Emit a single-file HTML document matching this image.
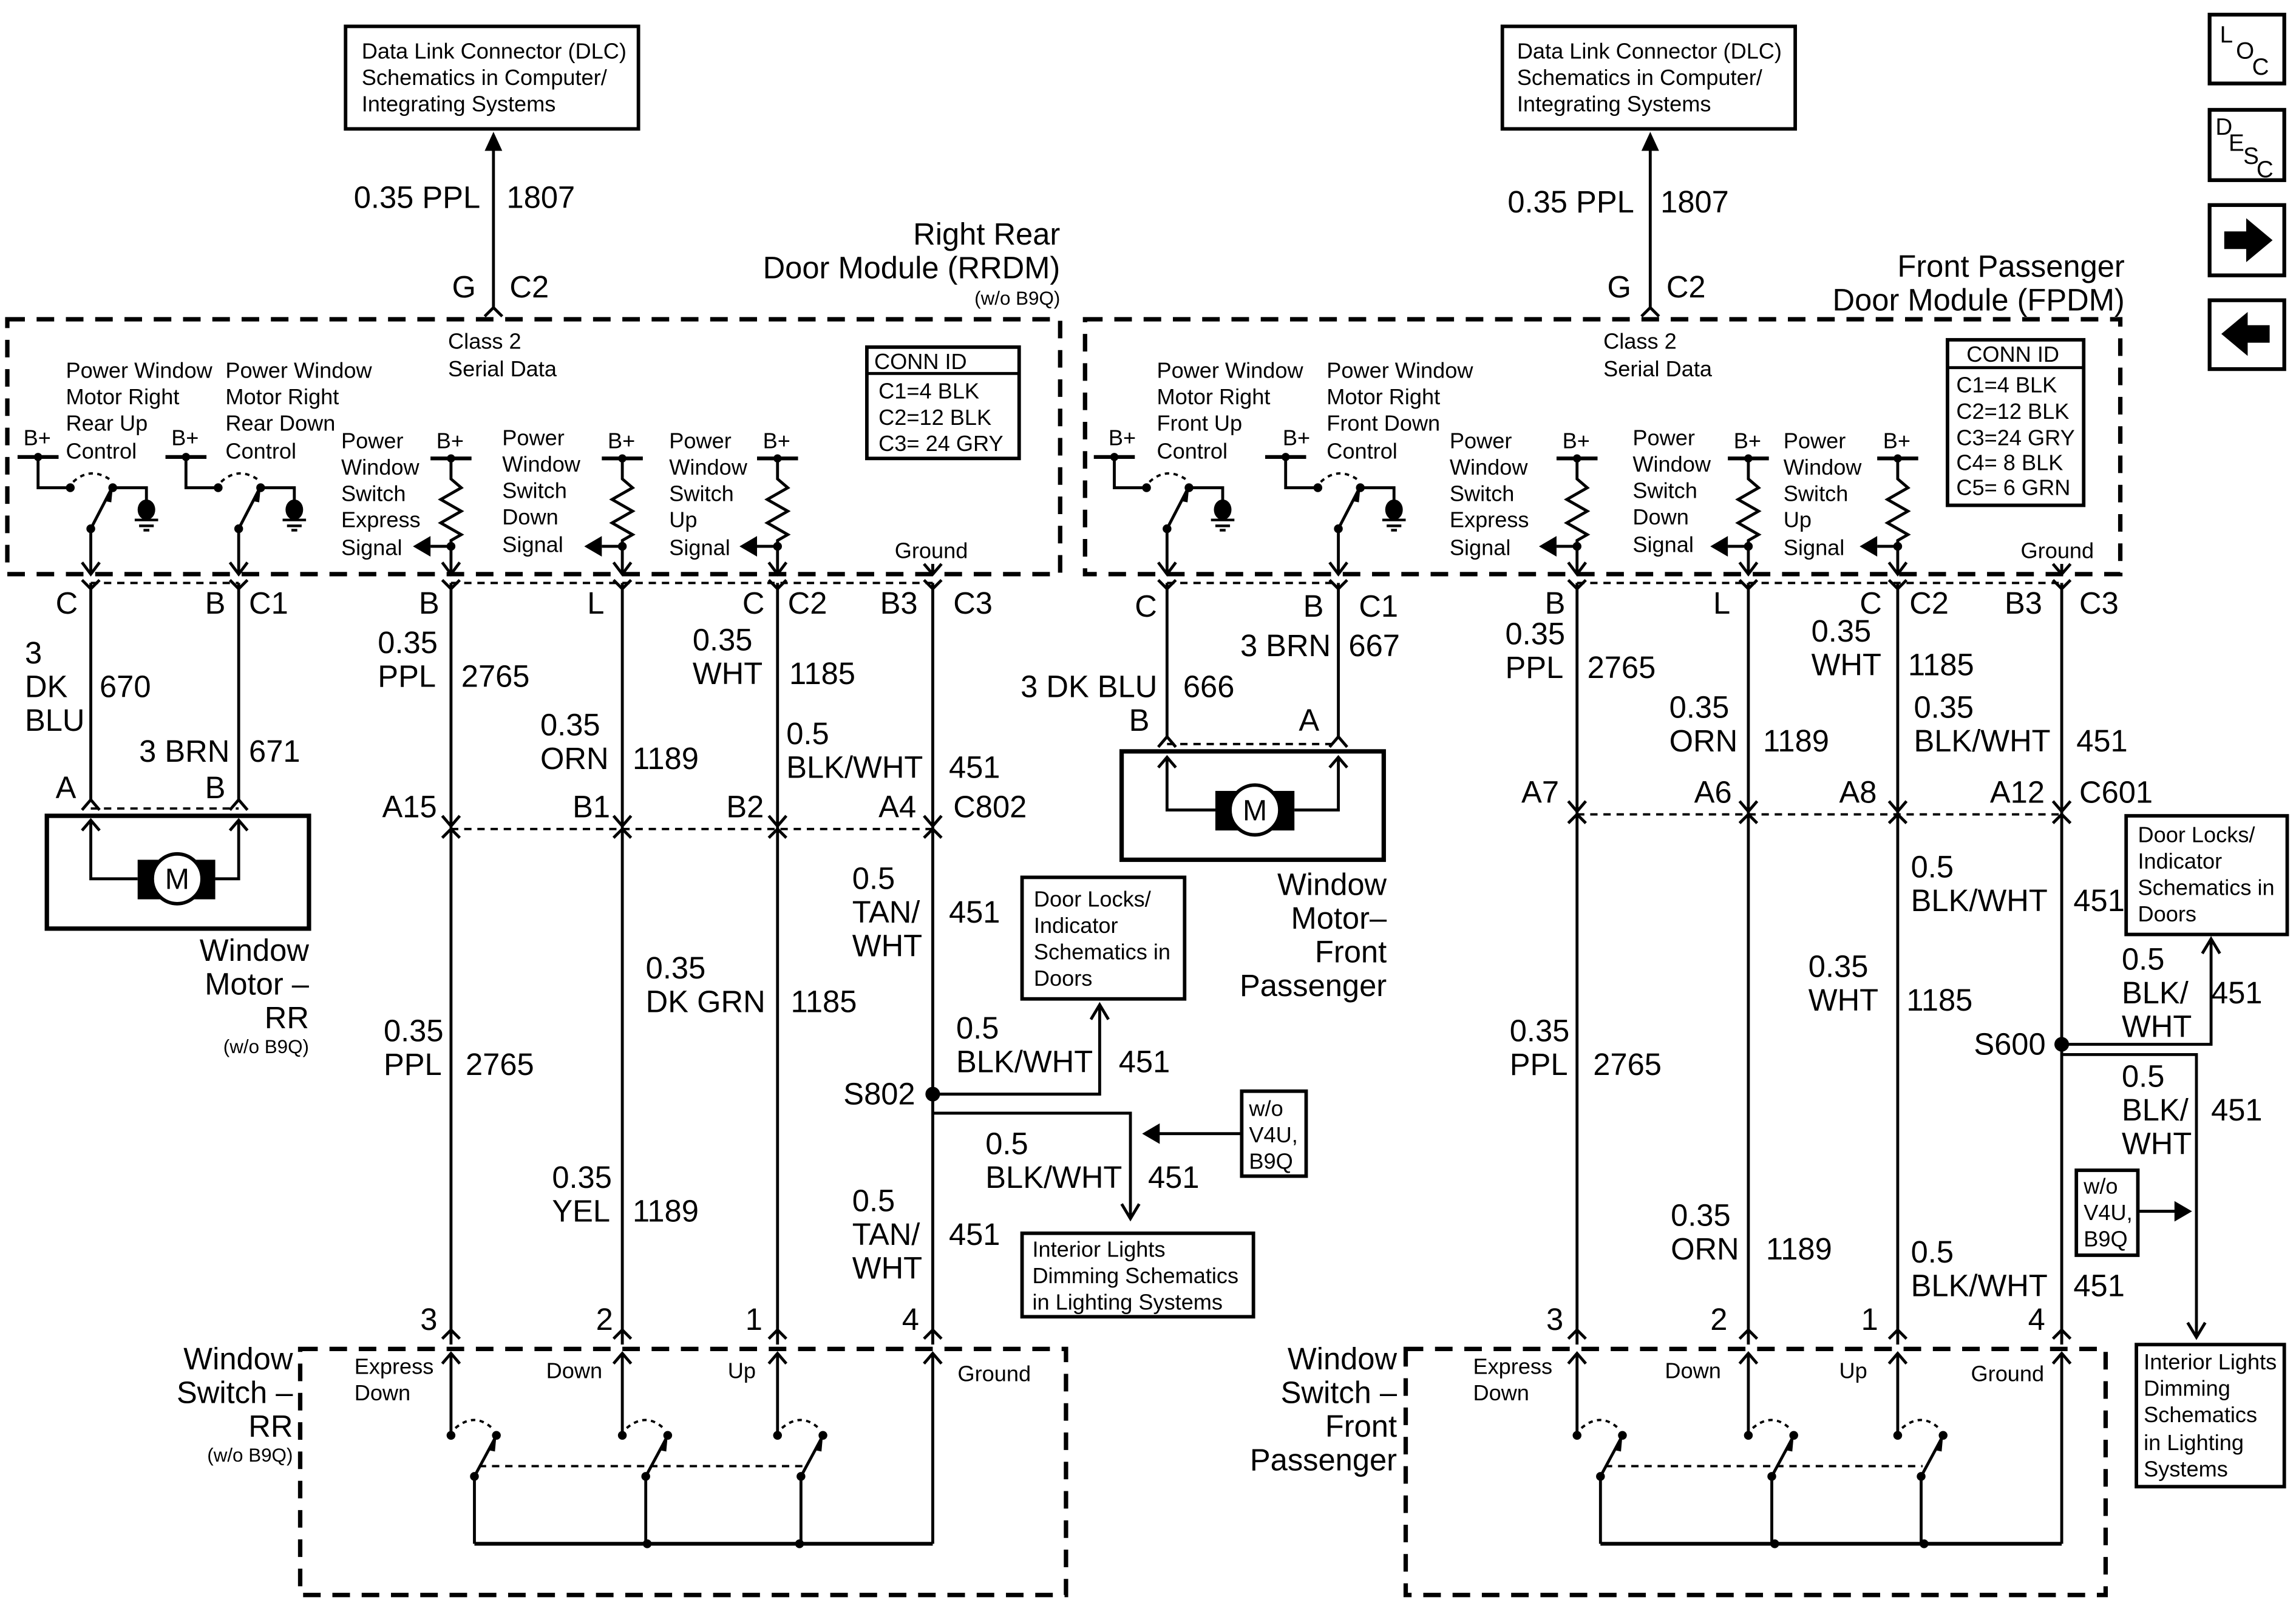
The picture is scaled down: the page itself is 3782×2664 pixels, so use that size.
<!DOCTYPE html>
<html><head><meta charset="utf-8"><style>
html,body{margin:0;padding:0;background:#fff;}
svg{display:block;}
text{font-family:"Liberation Sans",Arial,sans-serif;fill:#000;}
.b{font-size:21px;}
.s{font-size:15px;}
.t{font-size:13px;}
</style></head><body>
<svg width="3782" height="2664" viewBox="0 0 1568 1104" preserveAspectRatio="none" xmlns="http://www.w3.org/2000/svg">
<defs>
<g id="res"><polyline points="-14,0 14,0" stroke="#000" stroke-width="2.6" fill="none"/><circle cx="0" cy="0" r="2.8"/><polyline points="0,0 0,14 7,20 -7,28 7,36 -7,44 7,52 0,56 0,60" stroke="#000" stroke-width="2" fill="none"/><circle cx="0" cy="60" r="3"/><line x1="0" y1="60" x2="-14" y2="60" stroke="#000" stroke-width="2"/><polygon points="-26,60 -14,53 -14,67"/></g>
<g id="mc"><line x1="-50" y1="0" x2="-22" y2="0" stroke="#000" stroke-width="2.6"/><circle cx="-36" cy="0" r="2.8"/><polyline points="-36,0 -36,21 -14,21" stroke="#000" stroke-width="2" fill="none"/><circle cx="-14" cy="21" r="3"/><path d="M-12,17 Q0,6 14,16" stroke="#000" stroke-width="1.6" stroke-dasharray="3,3" fill="none"/><circle cx="15" cy="21" r="3"/><polyline points="15,21 38,21 38,30" stroke="#000" stroke-width="2" fill="none"/><ellipse cx="38" cy="36" rx="6" ry="7"/><line x1="30" y1="43" x2="46" y2="43" stroke="#000" stroke-width="1.8"/><line x1="33" y1="47" x2="43" y2="47" stroke="#000" stroke-width="1.8"/><line x1="36" y1="50" x2="40" y2="50" stroke="#000" stroke-width="1.8"/><circle cx="0" cy="49" r="3"/><line x1="0" y1="49" x2="14" y2="22" stroke="#000" stroke-width="2"/><polygon points="15,21 9,30 14,31"/><line x1="0" y1="49" x2="0" y2="80" stroke="#000" stroke-width="2"/><polyline points="-6,72 0,80 6,72" stroke="#000" stroke-width="2" fill="none"/></g>
<g id="sw"><circle cx="0" cy="0" r="3"/><path d="M3,-5 Q16,-16 28,-5" stroke="#000" stroke-width="1.6" stroke-dasharray="3,3" fill="none"/><circle cx="31" cy="0" r="3"/><circle cx="16" cy="28" r="3"/><line x1="16" y1="28" x2="30" y2="2" stroke="#000" stroke-width="2"/><polygon points="31,0 25,10 30,11"/><line x1="16" y1="28" x2="16" y2="74" stroke="#000" stroke-width="2"/></g>
</defs>
<g stroke="#000" fill="none">
<rect x="236" y="18" width="200" height="70" stroke-width="2.4"/>
<rect x="1026" y="18" width="200" height="70" stroke-width="2.4"/>
<rect x="5" y="218" width="719" height="174" stroke-width="3" stroke-dasharray="12,8"/>
<rect x="741" y="218" width="707" height="174" stroke-width="3" stroke-dasharray="12,8"/>
<rect x="205" y="921" width="523" height="168" stroke-width="3" stroke-dasharray="12,8"/>
<rect x="960" y="921" width="478" height="168" stroke-width="3" stroke-dasharray="12,8"/>
<rect x="592" y="237" width="104" height="76" stroke-width="2.4"/>
<line x1="592" y1="255" x2="696" y2="255" stroke-width="2"/>
<rect x="1330" y="232" width="93" height="113" stroke-width="2.4"/>
<line x1="1330" y1="251" x2="1423" y2="251" stroke-width="2"/>
<rect x="32" y="557" width="179" height="77" stroke-width="3"/>
<rect x="766" y="513" width="179" height="74" stroke-width="3"/>
<rect x="698" y="599" width="111" height="83" stroke-width="2.4"/>
<rect x="698" y="842" width="158" height="57" stroke-width="2.4"/>
<rect x="848" y="745" width="44" height="58" stroke-width="2.4"/>
<rect x="1452" y="557" width="110" height="81" stroke-width="2.4"/>
<rect x="1459" y="918" width="101" height="97" stroke-width="2.4"/>
<rect x="1418" y="799" width="42" height="58" stroke-width="2.4"/>
<rect x="1509" y="10" width="51" height="47" stroke-width="2.6"/>
<rect x="1509" y="75" width="51" height="48" stroke-width="2.6"/>
<rect x="1509" y="140" width="51" height="48" stroke-width="2.6"/>
<rect x="1509" y="205" width="51" height="47" stroke-width="2.6"/>
<g stroke-width="2"><line x1="337" y1="210" x2="337" y2="96"/><line x1="1127" y1="210" x2="1127" y2="96"/>
<polyline points="331,216 337,210 343,216"/><polyline points="1121,216 1127,210 1133,216"/></g>
<g stroke-width="2">
<line x1="62" y1="398" x2="62" y2="547"/><line x1="163" y1="398" x2="163" y2="547"/>
<line x1="308" y1="398" x2="308" y2="918"/><line x1="425" y1="398" x2="425" y2="918"/><line x1="531" y1="398" x2="531" y2="918"/><line x1="637" y1="398" x2="637" y2="918"/>
<line x1="797" y1="398" x2="797" y2="503"/><line x1="914" y1="398" x2="914" y2="503"/>
<line x1="1077" y1="398" x2="1077" y2="918"/><line x1="1194" y1="398" x2="1194" y2="918"/><line x1="1296" y1="398" x2="1296" y2="918"/><line x1="1408" y1="398" x2="1408" y2="918"/>
<line x1="637" y1="385" x2="637" y2="392"/><line x1="1408" y1="385" x2="1408" y2="392"/>
<polyline points="631,385 637,392 643,385"/><polyline points="1402,385 1408,392 1414,385"/>
</g>
<g stroke-width="1.6" stroke-dasharray="5,4">
<line x1="62" y1="398" x2="163" y2="398"/><line x1="308" y1="398" x2="637" y2="398"/>
<line x1="797" y1="398" x2="914" y2="398"/><line x1="1077" y1="398" x2="1408" y2="398"/>
<line x1="62" y1="552" x2="163" y2="552"/><line x1="308" y1="566" x2="637" y2="566"/><line x1="1077" y1="556" x2="1408" y2="556"/>
<line x1="797" y1="508" x2="914" y2="508"/>
</g>
<g stroke-width="2">
<polyline points="56,396 62,402 68,396"/><polyline points="157,396 163,402 169,396"/>
<polyline points="302,396 308,402 314,396"/><polyline points="419,396 425,402 431,396"/><polyline points="525,396 531,402 537,396"/><polyline points="631,396 637,402 643,396"/>
<polyline points="791,396 797,402 803,396"/><polyline points="908,396 914,402 920,396"/>
<polyline points="1071,396 1077,402 1083,396"/><polyline points="1188,396 1194,402 1200,396"/><polyline points="1290,396 1296,402 1302,396"/><polyline points="1402,396 1408,402 1414,396"/>
<polyline points="56,553 62,546 68,553"/><polyline points="157,553 163,546 169,553"/>
<polyline points="791,510 797,503 803,510"/><polyline points="908,510 914,503 920,510"/>
<polyline points="302,557 308,564 314,557"/><polyline points="302,572 308,566 314,572"/>
<polyline points="419,557 425,564 431,557"/><polyline points="419,572 425,566 431,572"/>
<polyline points="525,557 531,564 537,557"/><polyline points="525,572 531,566 537,572"/>
<polyline points="631,557 637,564 643,557"/><polyline points="631,572 637,566 643,572"/>
<polyline points="1071,547 1077,554 1083,547"/><polyline points="1071,562 1077,556 1083,562"/>
<polyline points="1188,547 1194,554 1200,547"/><polyline points="1188,562 1194,556 1200,562"/>
<polyline points="1290,547 1296,554 1302,547"/><polyline points="1290,562 1296,556 1302,562"/>
<polyline points="1402,547 1408,554 1414,547"/><polyline points="1402,562 1408,556 1414,562"/>
<g><polyline points="302,914 308,908 314,914"/><polyline points="419,914 425,908 431,914"/><polyline points="525,914 531,908 537,914"/><polyline points="631,914 637,908 643,914"/>
<polyline points="1071,914 1077,908 1083,914"/><polyline points="1188,914 1194,908 1200,914"/><polyline points="1290,914 1296,908 1302,914"/><polyline points="1402,914 1408,908 1414,914"/>
<polyline points="302,931 308,924 314,931"/><polyline points="419,931 425,924 431,931"/><polyline points="525,931 531,924 537,931"/><polyline points="631,931 637,924 643,931"/>
<polyline points="1071,931 1077,924 1083,931"/><polyline points="1188,931 1194,924 1200,931"/><polyline points="1290,931 1296,924 1302,931"/><polyline points="1402,931 1408,924 1414,931"/></g>
<line x1="308" y1="924" x2="308" y2="980"/><line x1="425" y1="924" x2="425" y2="980"/><line x1="531" y1="924" x2="531" y2="980"/>
<line x1="637" y1="924" x2="637" y2="1054"/>
<line x1="1077" y1="924" x2="1077" y2="980"/><line x1="1194" y1="924" x2="1194" y2="980"/><line x1="1296" y1="924" x2="1296" y2="980"/>
<line x1="1408" y1="924" x2="1408" y2="1054"/>
<line x1="324" y1="1054" x2="637" y2="1054" stroke-width="2.6"/><line x1="1093" y1="1054" x2="1408" y2="1054" stroke-width="2.6"/>
</g>
<g stroke-width="1.6" stroke-dasharray="5,4"><line x1="327" y1="1001" x2="548" y2="1001"/><line x1="1096" y1="1001" x2="1313" y2="1001"/></g>
<g stroke-width="2">
<polyline points="62,560 62,600 94,600"/><polyline points="163,560 163,600 147,600"/>
<polyline points="56,567 62,560 68,567"/><polyline points="157,567 163,560 169,567"/>
<polyline points="797,517 797,553 830,553"/><polyline points="914,517 914,553 884,553"/>
<polyline points="791,524 797,517 803,524"/><polyline points="908,524 914,517 920,524"/>
</g>
<g stroke-width="2">
<polyline points="637,747 751,747 751,686"/><polyline points="745,696 751,686 757,696"/>
<polyline points="637,760 772,760 772,832"/><polyline points="766,822 772,832 778,822"/>
<line x1="848" y1="774" x2="788" y2="774"/>
<polyline points="1408,713 1510,713 1510,641"/><polyline points="1504,651 1510,641 1516,651"/>
<polyline points="1408,720 1500,720 1500,913"/><polyline points="1494,903 1500,913 1506,903"/>
<line x1="1460" y1="827" x2="1487" y2="827"/>
</g>
</g>
<polygon points="337,90 331,103 343,103"/><polygon points="1127,90 1121,103 1133,103"/>
<polygon points="780,774 792,767 792,781"/><polygon points="1497,827 1485,820 1485,834"/>
<circle cx="637" cy="747" r="5"/><circle cx="1408" cy="713" r="5"/>
<rect x="94" y="587" width="53" height="27"/><circle cx="121" cy="600" r="17" fill="#fff" stroke="#000" stroke-width="2.4"/>
<rect x="830" y="540" width="54" height="27"/><circle cx="857" cy="553" r="17" fill="#fff" stroke="#000" stroke-width="2.4"/>
<circle cx="442" cy="1054" r="3"/><circle cx="546" cy="1054" r="3"/><circle cx="1212" cy="1054" r="3"/><circle cx="1314" cy="1054" r="3"/>
<polygon points="1519,158 1534,158 1534,149 1552,164 1534,179 1534,170 1519,170"/>
<polygon points="1550,222 1535,222 1535,213 1517,228 1535,243 1535,234 1550,234"/>
<use href="#mc" x="62" y="312"/><use href="#mc" x="163" y="312"/>
<use href="#mc" x="797" y="312"/><use href="#mc" x="914" y="312"/>
<use href="#res" x="308" y="313"/><use href="#res" x="425" y="313"/><use href="#res" x="531" y="313"/>
<use href="#res" x="1077" y="313"/><use href="#res" x="1194" y="313"/><use href="#res" x="1296" y="313"/>
<use href="#sw" x="308" y="980"/><use href="#sw" x="425" y="980"/><use href="#sw" x="531" y="980"/>
<use href="#sw" x="1077" y="980"/><use href="#sw" x="1194" y="980"/><use href="#sw" x="1296" y="980"/>
<g stroke="#000" stroke-width="2" fill="none">
<line x1="308" y1="373" x2="308" y2="392"/><line x1="425" y1="373" x2="425" y2="392"/><line x1="531" y1="373" x2="531" y2="392"/>
<line x1="1077" y1="373" x2="1077" y2="392"/><line x1="1194" y1="373" x2="1194" y2="392"/><line x1="1296" y1="373" x2="1296" y2="392"/>
<polyline points="302,384 308,392 314,384"/><polyline points="419,384 425,392 431,384"/><polyline points="525,384 531,392 537,384"/>
<polyline points="1071,384 1077,392 1083,384"/><polyline points="1188,384 1194,392 1200,384"/><polyline points="1290,384 1296,392 1302,384"/>
</g>

<g class="s">
<text x="247" y="40">Data Link Connector (DLC)</text><text x="247" y="58">Schematics in Computer/</text><text x="247" y="76">Integrating Systems</text>
<text x="1036" y="40">Data Link Connector (DLC)</text><text x="1036" y="58">Schematics in Computer/</text><text x="1036" y="76">Integrating Systems</text>
<text x="306" y="238">Class 2</text><text x="306" y="257">Serial Data</text>
<text x="1095" y="238">Class 2</text><text x="1095" y="257">Serial Data</text>
<text x="597" y="252">CONN ID</text><text x="600" y="272">C1=4 BLK</text><text x="600" y="290">C2=12 BLK</text><text x="600" y="308">C3= 24 GRY</text>
<text x="1343" y="247">CONN ID</text><text x="1336" y="268">C1=4 BLK</text><text x="1336" y="286">C2=12 BLK</text><text x="1336" y="304">C3=24 GRY</text><text x="1336" y="321">C4= 8 BLK</text><text x="1336" y="338">C5= 6 GRN</text>
<text x="45" y="258">Power Window</text><text x="45" y="276">Motor Right</text><text x="45" y="294">Rear Up</text><text x="45" y="313">Control</text>
<text x="154" y="258">Power Window</text><text x="154" y="276">Motor Right</text><text x="154" y="294">Rear Down</text><text x="154" y="313">Control</text>
<text x="16" y="304">B+</text><text x="117" y="304">B+</text>
<text x="233" y="306">Power</text><text x="233" y="324">Window</text><text x="233" y="342">Switch</text><text x="233" y="360">Express</text><text x="233" y="379">Signal</text>
<text x="343" y="304">Power</text><text x="343" y="322">Window</text><text x="343" y="340">Switch</text><text x="343" y="358">Down</text><text x="343" y="377">Signal</text>
<text x="457" y="306">Power</text><text x="457" y="324">Window</text><text x="457" y="342">Switch</text><text x="457" y="360">Up</text><text x="457" y="379">Signal</text>
<text x="298" y="306">B+</text><text x="415" y="306">B+</text><text x="521" y="306">B+</text>
<text x="611" y="381">Ground</text>
<text x="790" y="258">Power Window</text><text x="790" y="276">Motor Right</text><text x="790" y="294">Front Up</text><text x="790" y="313">Control</text>
<text x="906" y="258">Power Window</text><text x="906" y="276">Motor Right</text><text x="906" y="294">Front Down</text><text x="906" y="313">Control</text>
<text x="757" y="304">B+</text><text x="876" y="304">B+</text>
<text x="990" y="306">Power</text><text x="990" y="324">Window</text><text x="990" y="342">Switch</text><text x="990" y="360">Express</text><text x="990" y="379">Signal</text>
<text x="1115" y="304">Power</text><text x="1115" y="322">Window</text><text x="1115" y="340">Switch</text><text x="1115" y="358">Down</text><text x="1115" y="377">Signal</text>
<text x="1218" y="306">Power</text><text x="1218" y="324">Window</text><text x="1218" y="342">Switch</text><text x="1218" y="360">Up</text><text x="1218" y="379">Signal</text>
<text x="1067" y="306">B+</text><text x="1184" y="306">B+</text><text x="1286" y="306">B+</text>
<text x="1380" y="381">Ground</text>
<text x="706" y="619">Door Locks/</text><text x="706" y="637">Indicator</text><text x="706" y="655">Schematics in</text><text x="706" y="673">Doors</text>
<text x="705" y="858">Interior Lights</text><text x="705" y="876">Dimming Schematics</text><text x="705" y="894">in Lighting Systems</text>
<text x="853" y="762">w/o</text><text x="853" y="780">V4U,</text><text x="853" y="798">B9Q</text>
<text x="1460" y="575">Door Locks/</text><text x="1460" y="593">Indicator</text><text x="1460" y="611">Schematics in</text><text x="1460" y="629">Doors</text>
<text x="1464" y="935">Interior Lights</text><text x="1464" y="953">Dimming</text><text x="1464" y="971">Schematics</text><text x="1464" y="990">in Lighting</text><text x="1464" y="1008">Systems</text>
<text x="1423" y="815">w/o</text><text x="1423" y="833">V4U,</text><text x="1423" y="851">B9Q</text>
<text x="242" y="938">Express</text><text x="242" y="956">Down</text><text x="373" y="941">Down</text><text x="497" y="941">Up</text><text x="654" y="943">Ground</text>
<text x="1006" y="938">Express</text><text x="1006" y="956">Down</text><text x="1137" y="941">Down</text><text x="1256" y="941">Up</text><text x="1346" y="943">Ground</text>
</g>
<g class="t" text-anchor="end"><text x="724" y="208">(w/o B9Q)</text><text x="211" y="719">(w/o B9Q)</text><text x="200" y="998">(w/o B9Q)</text></g>
<g class="b" text-anchor="end">
<text x="328" y="142">0.35 PPL</text><text x="325" y="203">G</text>
<text x="1116" y="145">0.35 PPL</text><text x="1114" y="203">G</text>
<text x="724" y="167">Right Rear</text><text x="724" y="190">Door Module (RRDM)</text>
<text x="1451" y="189">Front Passenger</text><text x="1451" y="212">Door Module (FPDM)</text>
<text x="211" y="656">Window</text><text x="211" y="679">Motor –</text><text x="211" y="702">RR</text>
<text x="947" y="611">Window</text><text x="947" y="634">Motor–</text><text x="947" y="657">Front</text><text x="947" y="680">Passenger</text>
<text x="200" y="935">Window</text><text x="200" y="958">Switch –</text><text x="200" y="981">RR</text>
<text x="954" y="935">Window</text><text x="954" y="958">Switch –</text><text x="954" y="981">Front</text><text x="954" y="1004">Passenger</text>
</g>
<g class="b">
<text x="346" y="142">1807</text><text x="348" y="203">C2</text>
<text x="1134" y="145">1807</text><text x="1138" y="203">C2</text>
<text x="38" y="419">C</text><text x="140" y="419">B</text><text x="170" y="419">C1</text>
<text x="286" y="419">B</text><text x="401" y="419">L</text><text x="507" y="419">C</text><text x="538" y="419">C2</text><text x="601" y="419">B3</text><text x="651" y="419">C3</text>
<text x="17" y="453">3</text><text x="17" y="476">DK</text><text x="17" y="499">BLU</text><text x="68" y="476">670</text>
<text x="95" y="520">3 BRN</text><text x="170" y="520">671</text>
<text x="38" y="545">A</text><text x="140" y="545">B</text>
<text x="258" y="446">0.35</text><text x="258" y="469">PPL</text><text x="315" y="469">2765</text>
<text x="369" y="502">0.35</text><text x="369" y="525">ORN</text><text x="432" y="525">1189</text>
<text x="473" y="444">0.35</text><text x="473" y="467">WHT</text><text x="539" y="467">1185</text>
<text x="537" y="508">0.5</text><text x="537" y="531">BLK/WHT</text><text x="648" y="531">451</text>
<text x="261" y="558">A15</text><text x="391" y="558">B1</text><text x="496" y="558">B2</text><text x="600" y="558">A4</text><text x="651" y="558">C802</text>
<text x="262" y="711">0.35</text><text x="262" y="734">PPL</text><text x="318" y="734">2765</text>
<text x="441" y="668">0.35</text><text x="441" y="691">DK GRN</text><text x="540" y="691">1185</text>
<text x="377" y="811">0.35</text><text x="377" y="834">YEL</text><text x="432" y="834">1189</text>
<text x="582" y="607">0.5</text><text x="582" y="630">TAN/</text><text x="582" y="653">WHT</text><text x="648" y="630">451</text>
<text x="576" y="754">S802</text>
<text x="653" y="709">0.5</text><text x="653" y="732">BLK/WHT</text><text x="764" y="732">451</text>
<text x="673" y="788">0.5</text><text x="673" y="811">BLK/WHT</text><text x="784" y="811">451</text>
<text x="582" y="827">0.5</text><text x="582" y="850">TAN/</text><text x="582" y="873">WHT</text><text x="648" y="850">451</text>
<text x="287" y="908">3</text><text x="407" y="908">2</text><text x="509" y="908">1</text><text x="616" y="908">4</text>
<text x="775" y="421">C</text><text x="890" y="421">B</text><text x="928" y="421">C1</text>
<text x="1055" y="419">B</text><text x="1170" y="419">L</text><text x="1270" y="419">C</text><text x="1304" y="419">C2</text><text x="1369" y="419">B3</text><text x="1420" y="419">C3</text>
<text x="847" y="448">3 BRN</text><text x="921" y="448">667</text>
<text x="697" y="476">3 DK BLU</text><text x="808" y="476">666</text>
<text x="771" y="499">B</text><text x="887" y="499">A</text>
<text x="1028" y="440">0.35</text><text x="1028" y="463">PPL</text><text x="1084" y="463">2765</text>
<text x="1140" y="490">0.35</text><text x="1140" y="513">ORN</text><text x="1204" y="513">1189</text>
<text x="1237" y="438">0.35</text><text x="1237" y="461">WHT</text><text x="1303" y="461">1185</text>
<text x="1307" y="490">0.35</text><text x="1307" y="513">BLK/WHT</text><text x="1418" y="513">451</text>
<text x="1039" y="548">A7</text><text x="1157" y="548">A6</text><text x="1256" y="548">A8</text><text x="1359" y="548">A12</text><text x="1420" y="548">C601</text>
<text x="1305" y="599">0.5</text><text x="1305" y="622">BLK/WHT</text><text x="1416" y="622">451</text>
<text x="1235" y="667">0.35</text><text x="1235" y="690">WHT</text><text x="1302" y="690">1185</text>
<text x="1031" y="711">0.35</text><text x="1031" y="734">PPL</text><text x="1088" y="734">2765</text>
<text x="1348" y="720">S600</text>
<text x="1449" y="662">0.5</text><text x="1449" y="685">BLK/</text><text x="1449" y="708">WHT</text><text x="1510" y="685">451</text>
<text x="1449" y="742">0.5</text><text x="1449" y="765">BLK/</text><text x="1449" y="788">WHT</text><text x="1510" y="765">451</text>
<text x="1141" y="837">0.35</text><text x="1141" y="860">ORN</text><text x="1206" y="860">1189</text>
<text x="1305" y="862">0.5</text><text x="1305" y="885">BLK/WHT</text><text x="1416" y="885">451</text>
<text x="1056" y="908">3</text><text x="1168" y="908">2</text><text x="1271" y="908">1</text><text x="1385" y="908">4</text>
</g>
<g font-size="20" text-anchor="middle">
<text x="857" y="560">M</text><text x="121" y="607">M</text>
</g>
<g font-size="16">
<text x="1516" y="29">L</text><text x="1527" y="40">O</text><text x="1538" y="51">C</text>
<text x="1513" y="92">D</text><text x="1522" y="103">E</text><text x="1532" y="112">S</text><text x="1541" y="121">C</text>
</g>
</svg>
</body></html>
